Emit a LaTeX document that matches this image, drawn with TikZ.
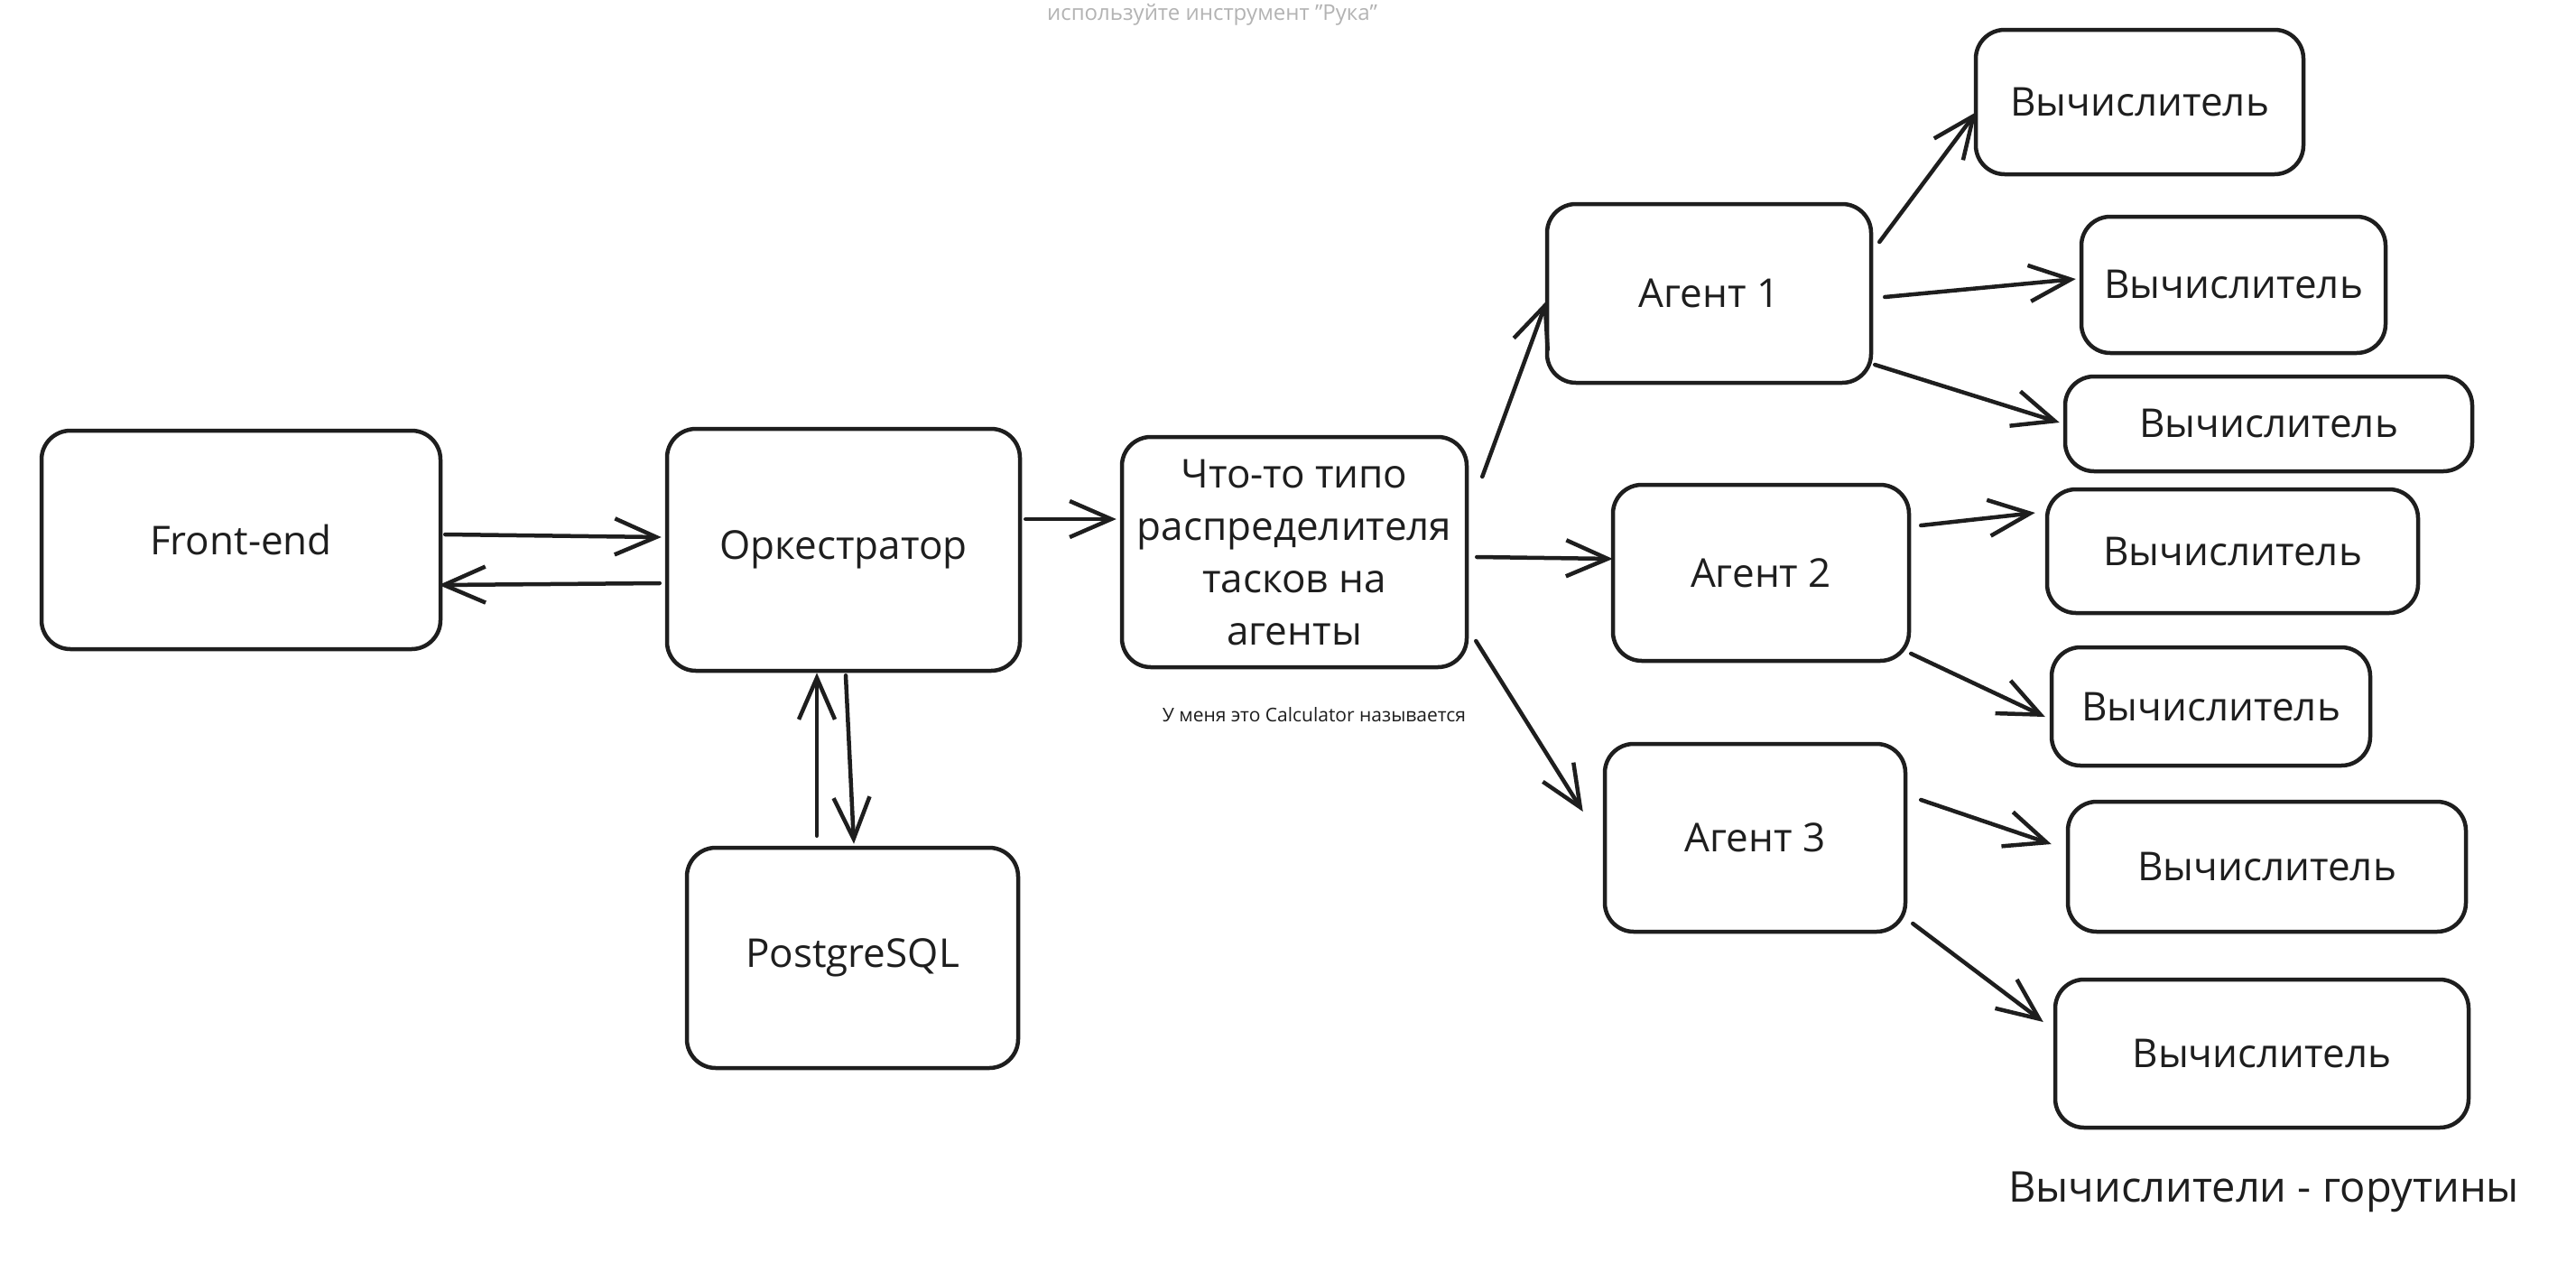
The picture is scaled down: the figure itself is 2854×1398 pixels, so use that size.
\documentclass[tikz,border=0pt]{standalone}
\usepackage{fontspec}
\setmainfont{Open Sans}
\usetikzlibrary{arrows.meta,calc}
\definecolor{ink}{HTML}{1E1E1E}
\definecolor{hint}{HTML}{B3B3B3}
\newcommand\boxfont{\fontsize{44pt}{58pt}\selectfont}
\tikzset{
  box/.style={draw=ink, line width=4.5pt, rounded corners=32pt, align=center, font=\boxfont, text=ink, inner sep=0pt},
  conn/.style={draw=ink, line width=4.5pt, line cap=round, -{Straight Barb[length=46pt,width=40pt,line width=4.5pt]}},
}
\begin{document}
\begin{tikzpicture}[x=1pt,y=-1pt]
\useasboundingbox[fill=white] (0,0) rectangle (2854,1398);

\node[text=hint, font=\fontsize{24pt}{28pt}\selectfont] (hint) at (1343,16) {используйте инструмент "Рука"};

\node[box, minimum width=442pt, minimum height=242pt] (fe) at (267,598) {Front-end};
\node[box, minimum width=391pt, minimum height=268pt] (orch) at (934.5,609) {Оркестратор};
\node[box, minimum width=367pt, minimum height=244pt] (pg) at (944.5,1061) {PostgreSQL};
\node[box, minimum width=382pt, minimum height=255pt] (dist) at (1434,611.5) {Что-то типо\\распределителя\\тасков на\\агенты};
\node[font=\fontsize{21pt}{25pt}\selectfont, text=ink] (cap) at (1456,792) {У меня это Calculator называется};

\node[box, minimum width=359pt, minimum height=198pt] (a1) at (1893.5,325) {Агент 1};
\node[box, minimum width=328pt, minimum height=195pt] (a2) at (1951,634.5) {Агент 2};
\node[box, minimum width=333pt, minimum height=208pt] (a3) at (1944.5,928) {Агент 3};

\node[box, minimum width=363pt, minimum height=160pt] (v1) at (2370.5,113) {Вычислитель};
\node[box, minimum width=337pt, minimum height=151pt] (v2) at (2474.5,315.5) {Вычислитель};
\node[box, minimum width=451pt, minimum height=105pt] (v3) at (2513.5,469.5) {Вычислитель};
\node[box, minimum width=411pt, minimum height=137pt] (v4) at (2473.5,610.5) {Вычислитель};
\node[box, minimum width=353pt, minimum height=131pt] (v5) at (2449.5,782.5) {Вычислитель};
\node[box, minimum width=441pt, minimum height=144pt] (v6) at (2511.5,960) {Вычислитель};
\node[box, minimum width=458pt, minimum height=164pt] (v7) at (2506,1167) {Вычислитель};

\node[font=\fontsize{47pt}{54pt}\selectfont, text=ink] (note) at (2508,1320) {Вычислители - горутины};

% connectors
\draw[conn] ($(fe.east)+(3,-6)$) -- ($(orch.west)+(-4,-14)$);
\draw[conn] ($(orch.west)+(-6,37)$) -- ($(fe.east)+(-4,50)$);
\draw[conn] ($(orch.east)+(4,-34)$) -- ($(dist.west)+(-4,-36.5)$);
\draw[conn] ($(pg.north)+(-39.5,-11)$) -- ($(orch.south)+(-29.5,0)$);
\draw[conn] ($(orch.south)+(2.5,3)$) -- ($(pg.north)+(1.5,-2)$);

\draw[conn] ($(dist.east)+(15,-83.5)$) -- ($(a1.west)+(2,8)$);
\draw[conn] ($(dist.east)+(9,5.5)$) -- ($(a2.west)+(2,-15.5)$);
\draw[conn] ($(dist.east)+(8,98.5)$) -- ($(a3.west)+(-22,-29)$);

\draw[conn] ($(a1.east)+(7,-57)$) -- ($(v1.west)+(3,11)$);
\draw[conn] ($(a1.east)+(13,4)$) -- ($(v2.west)+(-4,-6.5)$);
\draw[conn] ($(a1.east)+(2,79)$) -- ($(v3.west)+(-4,-1.5)$);
\draw[conn] ($(a2.east)+(11,-52.5)$) -- ($(v4.west)+(-11,-42.5)$);
\draw[conn] ($(a2.east)+(0,89.5)$) -- ($(v5.west)+(-5,11.5)$);
\draw[conn] ($(a3.east)+(15,-42)$) -- ($(v6.west)+(-16,-25)$);
\draw[conn] ($(a3.east)+(6,95)$) -- ($(v7.west)+(-11,-35)$);
\end{tikzpicture}
\end{document}
